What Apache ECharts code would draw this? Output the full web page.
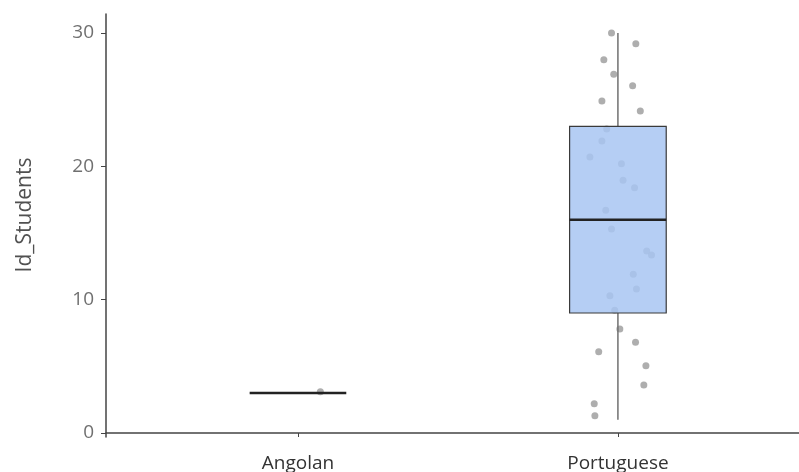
<!DOCTYPE html>
<html>
<head>
<meta charset="utf-8">
<script src="https://cdn.jsdelivr.net/npm/echarts@6/dist/echarts.min.js"></script>
<style>html,body{margin:0;padding:0;background:#fff;}#c{width:799px;height:472px;}</style>
</head>
<body>
<div id="c"></div>
<script>
// Categories and box statistics [min, Q1, median, Q3, max]
var categories = ['Angolan', 'Portuguese'];
var boxStats = [
  [3, 3, 3, 3, 3],
  [1, 9, 16, 23, 30]
];
var yTicks = [0, 10, 20, 30];

// Raw points (jittered position offsets around each category)
var angolanValues = [3.1];
var angolanJitter = [0.07];
var portugueseValues = [30, 29.2, 28.0, 26.9, 26.05, 24.9, 24.15, 22.8, 21.9, 20.7, 20.2, 18.95, 18.4, 16.7, 15.3,
  13.65, 13.35, 11.9, 10.8, 10.3, 9.2, 7.8, 6.8, 6.1, 5.05, 3.6, 2.2, 1.3];
var portugueseJitter = [-0.02, 0.056, -0.044, -0.013, 0.046, -0.05, 0.07, -0.035, -0.05, -0.0875, 0.011, 0.016, 0.052, -0.038, -0.02,
  0.09, 0.105, 0.048, 0.058, -0.025, -0.01, 0.006, 0.055, -0.06, 0.0875, 0.081, -0.074, -0.072];

var pointData = [];
angolanValues.forEach(function (v, i) { pointData.push([1 + angolanJitter[i], v]); });
portugueseValues.forEach(function (v, i) { pointData.push([2 + portugueseJitter[i], v]); });

var boxData = boxStats.map(function (s, i) { return [i + 1].concat(s); });

var chart = echarts.init(document.getElementById('c'), null, { renderer: 'canvas' });
var halfW = 0.151;
chart.setOption({
  animation: false,
  backgroundColor: '#ffffff',
  grid: { left: 106, right: 0, top: 14, bottom: 35, containLabel: false, outerBoundsMode: 'none' },
  xAxis: {
    type: 'value', min: 0.4, max: 2.566,
    axisLine: { show: true, lineStyle: { color: '#444', width: 1.5 } },
    axisTick: { show: true, length: 4, customValues: [1, 2], lineStyle: { color: '#444' } },
    axisLabel: {
      customValues: [1, 2], margin: 17, fontSize: 19, color: '#333', fontFamily: 'Open Sans',
      formatter: function (v) { return categories[Math.round(v) - 1] || ''; }
    },
    splitLine: { show: false }
  },
  yAxis: {
    type: 'value', min: -0.3, max: 31.425,
    axisLine: { show: true, lineStyle: { color: '#444', width: 1.5 } },
    axisTick: { show: true, length: 5, customValues: yTicks, lineStyle: { color: '#444' } },
    axisLabel: { customValues: yTicks, margin: 12, fontSize: 19, color: '#707070', fontFamily: 'Open Sans' },
    splitLine: { show: false }
  },
  graphic: [{
    type: 'text', x: 25, y: 215, rotation: Math.PI / 2,
    style: { text: 'Id_Students', fontSize: 21, fill: '#505050', fontFamily: 'Open Sans', align: 'center', verticalAlign: 'middle' }
  }],
  series: [
    {
      type: 'scatter', data: pointData, symbolSize: 7, z: 1,
      itemStyle: { color: '#9a9a9a' }
    },
    {
      type: 'custom', data: boxData, z: 2,
      renderItem: function (params, api) {
        var x = api.value(0);
        var mn = api.coord([x, api.value(1)]);
        var q1 = api.coord([x, api.value(2)]);
        var md = api.coord([x, api.value(3)]);
        var q3 = api.coord([x, api.value(4)]);
        var mx = api.coord([x, api.value(5)]);
        var L = api.coord([x - halfW, 0])[0];
        var R = api.coord([x + halfW, 0])[0];
        var children = [];
        children.push({ type: 'line', shape: { x1: mx[0], y1: mx[1], x2: q3[0], y2: q3[1] }, style: { stroke: '#707070', lineWidth: 1.5 } });
        children.push({ type: 'line', shape: { x1: q1[0], y1: q1[1], x2: mn[0], y2: mn[1] }, style: { stroke: '#707070', lineWidth: 1.5 } });
        if (q1[1] - q3[1] > 0.5) {
          children.push({ type: 'rect', shape: { x: L, y: q3[1], width: R - L, height: q1[1] - q3[1] },
            style: { fill: 'rgba(168,198,242,0.85)', stroke: '#3a3a3a', lineWidth: 1.2 } });
        }
        children.push({ type: 'line', shape: { x1: L, y1: md[1], x2: R, y2: md[1] }, style: { stroke: '#222', lineWidth: 2.5 } });
        return { type: 'group', children: children };
      }
    }
  ]
});
</script>
</body>
</html>
